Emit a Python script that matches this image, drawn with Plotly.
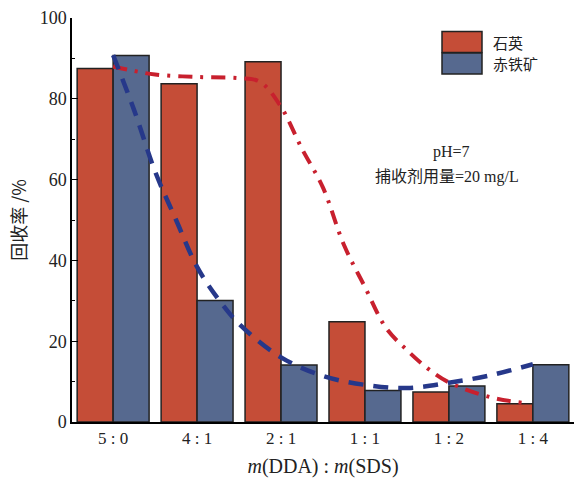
import plotly.graph_objects as go

categories = ["5 : 0", "4 : 1", "2 : 1", "1 : 1", "1 : 2", "1 : 4"]
quartz = [87.5, 83.7, 89.2, 24.8, 7.4, 4.5]
hematite = [90.7, 30.1, 14.1, 7.8, 8.9, 14.2]

# smoothed trend curves (x in category units)
quartz_curve_x = [0, 0.25, 0.5, 1.0, 1.5, 1.75, 2.0, 2.25, 2.5, 2.75, 3.0, 3.25, 3.5, 3.75, 4.0, 4.5, 4.9]
quartz_curve_y = [88, 86.9, 86, 85.4, 85.1, 84.2, 78, 67.6, 58, 43.8, 33.4, 23.3, 17.8, 13.2, 9.8, 6.1, 4.7]
hematite_curve_x = [0, 0.25, 0.5, 0.75, 1.0, 1.25, 1.5, 2.0, 2.5, 3.0, 3.5, 4.0, 4.5, 5.0]
hematite_curve_y = [90.8, 77.2, 62, 50, 38.4, 30.5, 24.3, 16, 11.4, 9.2, 8.4, 9.7, 11.6, 14.3]

RED = "#C54D37"
BLUE = "#56698F"
CURVE_RED = "#C8202E"
CURVE_BLUE = "#26388A"
SERIF = "Liberation Serif, Noto Sans CJK SC"

fig = go.Figure()
fig.add_trace(go.Bar(x=list(range(len(categories))), y=quartz, name="石英",
                     marker=dict(color=RED, line=dict(color="#222222", width=1.5))))
fig.add_trace(go.Bar(x=list(range(len(categories))), y=hematite, name="赤铁矿",
                     marker=dict(color=BLUE, line=dict(color="#222222", width=1.5))))
fig.add_trace(go.Scatter(x=quartz_curve_x, y=quartz_curve_y, mode="lines",
                         line=dict(color=CURVE_RED, width=4, shape="spline",
                                   dash="14px,8px,3px,8px"), showlegend=False))
fig.add_trace(go.Scatter(x=hematite_curve_x, y=hematite_curve_y, mode="lines",
                         line=dict(color=CURVE_BLUE, width=4.5, shape="spline",
                                   dash="15px,10px"), showlegend=False))

L, R, T, B = 72, 0, 18, 64
W, H = 574, 486
pw, ph = W - L - R, H - T - B

def px(x):
    return (x - L) / pw

def py(y):
    return (H - B - y) / ph

shapes = [
    dict(type="rect", xref="paper", yref="paper", x0=px(442), x1=px(482), y0=py(52.5), y1=py(31.5),
         fillcolor=RED, line=dict(color="#222222", width=1.5)),
    dict(type="rect", xref="paper", yref="paper", x0=px(442), x1=px(482), y0=py(74), y1=py(53),
         fillcolor=BLUE, line=dict(color="#222222", width=1.5)),
]
annotations = [
    dict(xref="paper", yref="paper", x=px(491), y=py(42), text="石英", showarrow=False,
         xanchor="left", yanchor="middle", font=dict(family="Noto Sans CJK SC", size=15, color="#222")),
    dict(xref="paper", yref="paper", x=px(491), y=py(64), text="赤铁矿", showarrow=False,
         xanchor="left", yanchor="middle", font=dict(family="Noto Sans CJK SC", size=15, color="#222")),
    dict(xref="paper", yref="paper", x=px(451), y=py(152), text="pH=7", showarrow=False,
         xanchor="center", yanchor="middle", font=dict(family=SERIF, size=16, color="#222")),
    dict(xref="paper", yref="paper", x=px(447), y=py(177), text="捕收剂用量=20 mg/L", showarrow=False,
         xanchor="center", yanchor="middle", font=dict(family=SERIF, size=16, color="#222")),
]

fig.update_layout(
    width=W, height=H,
    margin=dict(l=L, r=R, t=T, b=B),
    paper_bgcolor="white", plot_bgcolor="white",
    barmode="group", bargap=0.143, bargroupgap=0,
    showlegend=False,
    shapes=shapes, annotations=annotations,
    font=dict(family=SERIF, size=17, color="#222"),
)
fig.update_xaxes(range=[-0.49, 5.49], tickvals=list(range(len(categories))), ticktext=categories,
                 showline=True, linecolor="black", linewidth=1.5, ticks="", showgrid=False,
                 zeroline=False, tickfont=dict(family=SERIF, size=17),
                 title=dict(text="<i>m</i>(DDA)&nbsp;:&nbsp;<i>m</i>(SDS)", font=dict(family=SERIF, size=20), standoff=12))
fig.update_yaxes(range=[0, 100], tickvals=[0, 20, 40, 60, 80, 100], showline=True, linecolor="black",
                 linewidth=1.5, ticks="inside", ticklen=6, tickwidth=1.2, tickcolor="black",
                 minor=dict(ticks="inside", ticklen=3, tickwidth=1, tickcolor="black", dtick=10, showgrid=False),
                 showgrid=False, zeroline=False, tickfont=dict(family=SERIF, size=18),
                 title=dict(text="回收率 /%", font=dict(family="Noto Sans CJK SC", size=18), standoff=8))

fig.write_html("out.html")
